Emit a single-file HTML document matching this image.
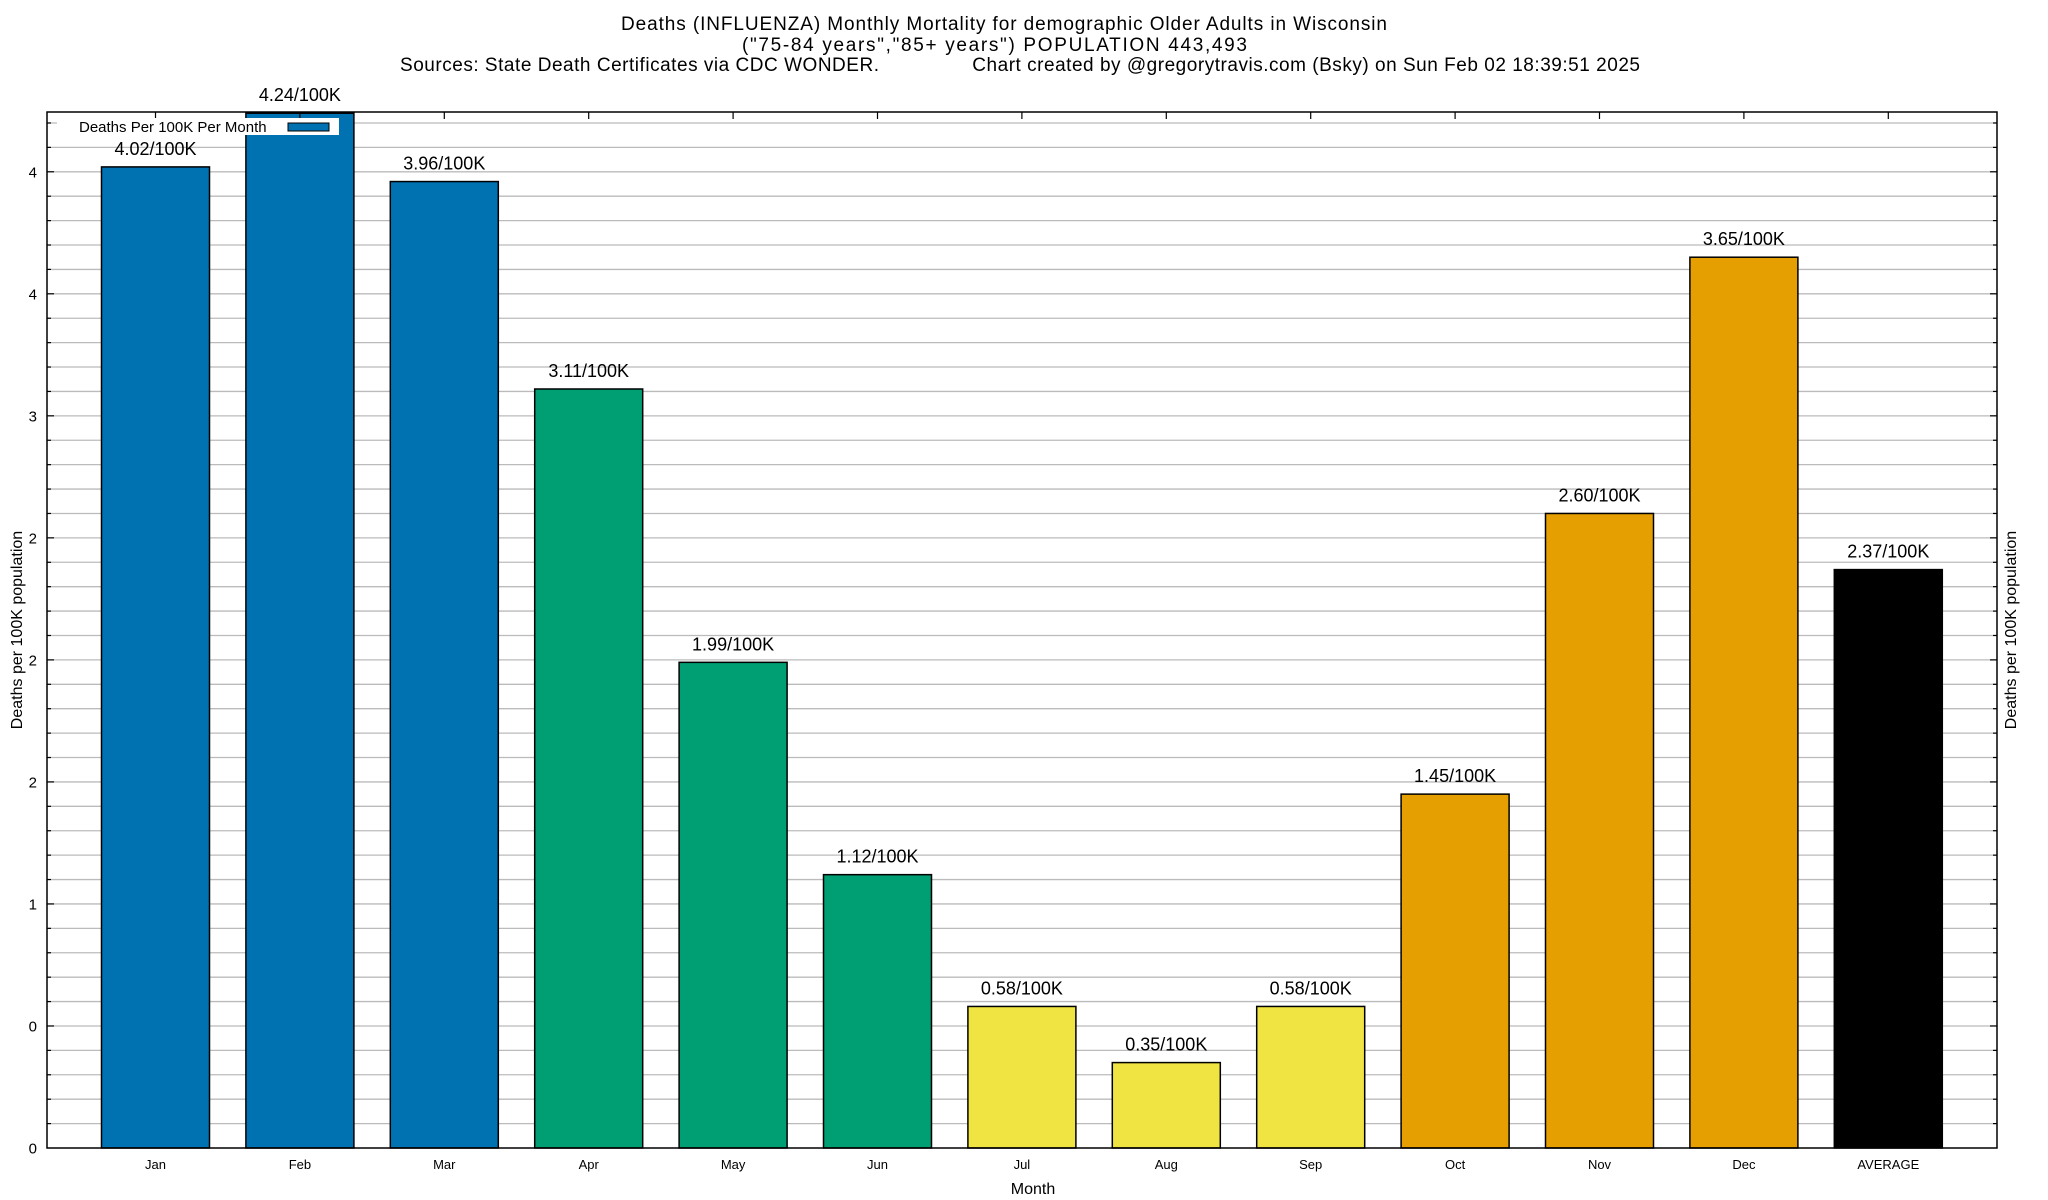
<!DOCTYPE html>
<html><head><meta charset="utf-8"><style>
html,body{margin:0;padding:0;background:#fff;}
svg{display:block;font-family:"Liberation Sans",Arial,sans-serif;}
</style></head><body>
<svg id="chart" width="2048" height="1200" viewBox="0 0 2048 1200" xmlns="http://www.w3.org/2000/svg">
<rect width="2048" height="1200" fill="#fff"/>
<g font-size="19" fill="#000">
<text x="1004" y="30" text-anchor="middle" textLength="766">Deaths (INFLUENZA) Monthly Mortality for demographic Older Adults in Wisconsin</text>
<text x="994.5" y="51" text-anchor="middle" textLength="505">("75-84 years","85+ years") POPULATION 443,493</text>
<text x="400" y="71" textLength="1240" xml:space="preserve">Sources: State Death Certificates via CDC WONDER.                Chart created by @gregorytravis.com (Bsky) on Sun Feb 02 18:39:51 2025</text>
</g>
<g id="grid"></g>
<g id="bars"></g>
<g id="labels"></g>
<g id="axes"></g>
<g>
<rect x="57" y="118" width="282" height="17" fill="#fff"/>
<text x="79" y="132" font-size="15">Deaths Per 100K Per Month</text>
<rect x="288" y="123" width="41" height="8" fill="#0072b2" stroke="#000" stroke-width="1"/>
</g>
<text transform="translate(22,630) rotate(-90)" text-anchor="middle" font-size="16">Deaths per 100K population</text>
<text transform="translate(2016,630) rotate(-90)" text-anchor="middle" font-size="16">Deaths per 100K population</text>
<text x="1033" y="1194" text-anchor="middle" font-size="16">Month</text>
</svg>
<script>
const categories = ["Jan","Feb","Mar","Apr","May","Jun","Jul","Aug","Sep","Oct","Nov","Dec","AVERAGE"];
const values = [4.02,4.24,3.96,3.11,1.99,1.12,0.58,0.35,0.58,1.45,2.60,3.65,2.37];
const valueLabels = ["4.02/100K","4.24/100K","3.96/100K","3.11/100K","1.99/100K","1.12/100K","0.58/100K","0.35/100K","0.58/100K","1.45/100K","2.60/100K","3.65/100K","2.37/100K"];
const colors = ["#0072b2","#0072b2","#0072b2","#009e73","#009e73","#009e73","#f0e442","#f0e442","#f0e442","#e69f00","#e69f00","#e69f00","#000000"];
const yTickValues = [0,0.5,1,1.5,2,2.5,3,3.5,4];
const yTickLabels = ["0","0","1","2","2","2","3","4","4"];

const NS = "http://www.w3.org/2000/svg";
const L = 47, R = 1997, T = 112, B = 1148, YMAX = 4.245;
function y(v){ return B - (v / YMAX) * (B - T); }
function xc(i){ return 155.5 + i * 144.4; }
const BW = 108;
function mk(tag, attrs, parent){ const e = document.createElementNS(NS, tag); for (const k in attrs) e.setAttribute(k, attrs[k]); parent.appendChild(e); return e; }

const grid = document.getElementById('grid');
for (let k = 1; k * 0.1 < YMAX; k++) {
  const yy = y(k * 0.1);
  const g = mk('line', {x1:L, x2:R, y1:yy, y2:yy, stroke:'#bbb', 'stroke-width':1.3}, grid);
  
  
}

const bars = document.getElementById('bars');
const labels = document.getElementById('labels');
values.forEach((v, i) => {
  const top = Math.max(y(v), T);
  const r = mk('rect', {x:xc(i) - BW/2, y:top, width:BW, height:B - top, fill:colors[i], stroke:'#000', 'stroke-width':1.5}, bars);
  
  
  const t = mk('text', {x:xc(i), y:y(v) - 12, 'text-anchor':'middle', 'font-size':18}, labels);
  t.textContent = valueLabels[i];
  
  
  const xl = mk('text', {x:xc(i), y:1169, 'text-anchor':'middle', 'font-size':13}, labels);
  xl.textContent = categories[i];
  
  
});

const axes = document.getElementById('axes');
const fr = mk('rect', {x:L, y:T, width:R-L, height:B-T, fill:'none', stroke:'#000', 'stroke-width':1.5}, axes);


for (let k = 1; k * 0.1 < YMAX; k++) {
  const yy = y(k * 0.1);
  const len = (k % 5 === 0) ? 7 : 4;
  const a = mk('line', {x1:L, x2:L + len, y1:yy, y2:yy, stroke:'#000', 'stroke-width':1.2}, axes);
  
  
  const b = mk('line', {x1:R - len, x2:R, y1:yy, y2:yy, stroke:'#000', 'stroke-width':1.2}, axes);
  
  
}
categories.forEach((c, i) => {
  const a = mk('line', {x1:xc(i), x2:xc(i), y1:T, y2:T + 7, stroke:'#000', 'stroke-width':1.2}, axes);
  
  
});
yTickValues.forEach((v, i) => {
  const t = mk('text', {x:37, y:y(v) + 5.5, 'text-anchor':'end', 'font-size':15}, axes);
  t.textContent = yTickLabels[i];
  
  
});
</script>
</body></html>
